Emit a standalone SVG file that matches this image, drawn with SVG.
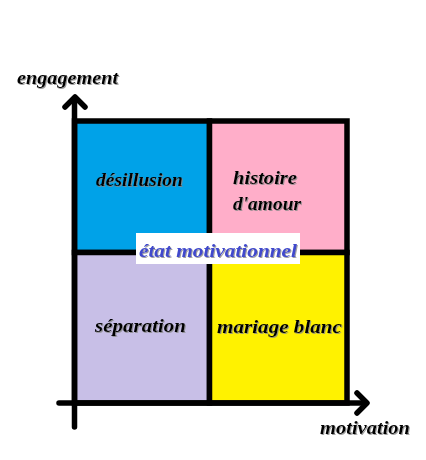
<svg xmlns="http://www.w3.org/2000/svg" width="426" height="460" viewBox="0 0 426 460">
<style>
.lbl{font-family:"Liberation Serif","DejaVu Serif",serif;font-style:italic;font-weight:bold;fill:#000;font-size:18px;text-anchor:start}
.ax{stroke:#000;stroke-width:5.5;fill:none;stroke-linecap:round;stroke-linejoin:round}
.q{stroke:#000;stroke-width:5.5}
</style>
<defs>
<filter id="sh" x="-10%" y="-30%" width="120%" height="160%">
<feDropShadow dx="1" dy="1" stdDeviation="0.6" flood-color="#888" flood-opacity="0.8"/>
</filter>
</defs>
<rect width="426" height="460" fill="#fff"/>
<g id="q-desillusion">
<rect class="q" x="74.5" y="121" width="135" height="131.5" fill="#00a2e8"/>
<text class="lbl" x="96" y="186" textLength="87" lengthAdjust="spacingAndGlyphs" filter="url(#sh)">désillusion</text>
</g>
<g id="q-histoire">
<rect class="q" x="209.5" y="121" width="137.5" height="131.5" fill="#ffaec9"/>
<text class="lbl" x="233" y="184" textLength="64" lengthAdjust="spacingAndGlyphs" filter="url(#sh)">histoire</text>
<text class="lbl" x="233" y="210" textLength="68" lengthAdjust="spacingAndGlyphs" filter="url(#sh)">d'amour</text>
</g>
<g id="q-separation">
<rect class="q" x="74.5" y="252.5" width="135" height="150.5" fill="#c8bfe7"/>
<text class="lbl" x="95" y="332" textLength="91" lengthAdjust="spacingAndGlyphs" filter="url(#sh)">séparation</text>
</g>
<g id="q-mariage">
<rect class="q" x="209.5" y="252.5" width="137.5" height="150.5" fill="#fff200"/>
<text class="lbl" x="217" y="333" textLength="125" lengthAdjust="spacingAndGlyphs" filter="url(#sh)">mariage blanc</text>
</g>
<g id="connectors">
<path class="ax" d="M74.5 427 V99"/>
<path class="ax" d="M65 107 L75 97 L85 107"/>
<path class="ax" d="M59 403 H366"/>
<path class="ax" d="M357 393 L367 403 L357 413"/>
</g>
<g id="center-label">
<rect x="136" y="233" width="164" height="31" fill="#fff"/>
<text class="lbl" x="139" y="257" textLength="158" lengthAdjust="spacingAndGlyphs" style="fill:#3f48cc" filter="url(#sh)">état motivationnel</text>
</g>
<g id="axis-labels">
<text class="lbl" x="17" y="84" textLength="101" lengthAdjust="spacingAndGlyphs" filter="url(#sh)">engagement</text>
<text class="lbl" x="320" y="434" textLength="90" lengthAdjust="spacingAndGlyphs" filter="url(#sh)">motivation</text>
</g>
</svg>
